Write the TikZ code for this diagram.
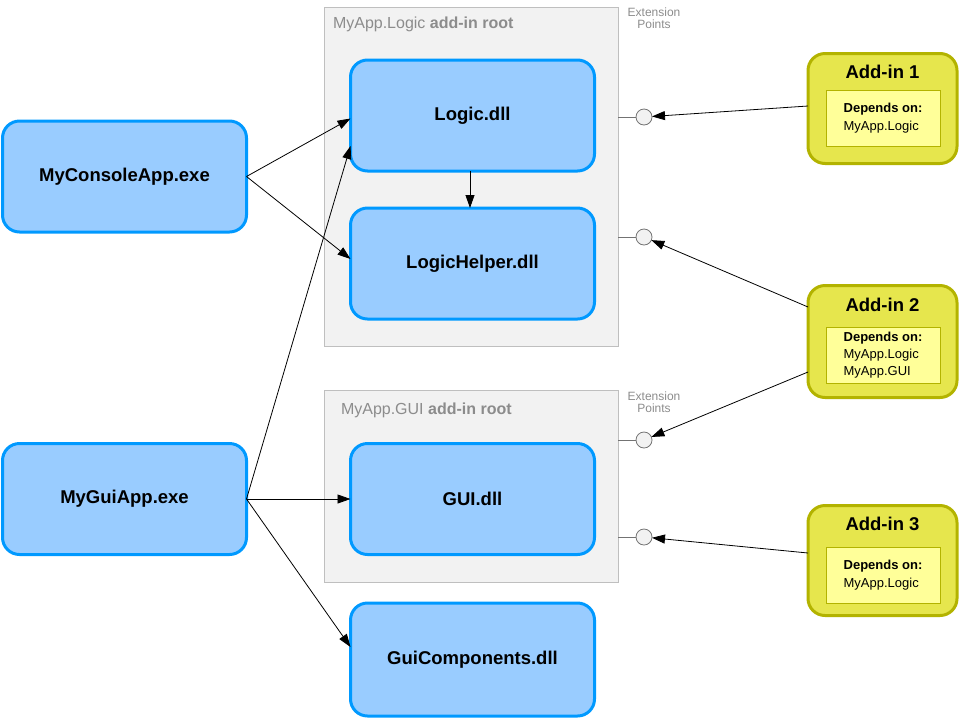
\documentclass[tikz,border=0pt]{standalone}
\usepackage{fontspec}
\setmainfont{Liberation Sans}
\usetikzlibrary{arrows.meta}
\definecolor{bluefill}{HTML}{99CCFF}
\definecolor{blueline}{HTML}{0099FF}
\definecolor{yelfill}{HTML}{E6E64D}
\definecolor{yelline}{HTML}{B3B300}
\definecolor{yelinner}{HTML}{FFFF99}
\definecolor{boxfill}{HTML}{F2F2F2}
\definecolor{boxline}{HTML}{BFBFBF}
\definecolor{graytext}{HTML}{8C8C8C}
\tikzset{
  x=1pt, y=-1pt,
  every node/.style={inner sep=0pt, outer sep=0pt},
  asm/.style={draw=blueline, fill=bluefill, line width=3pt, rounded corners=17pt,
    minimum width=244pt, minimum height=111pt,
    font=\fontsize{18.5}{20}\selectfont\bfseries},
  container/.style={draw=boxline, fill=boxfill, line width=1pt},
  addin/.style={draw=yelline, fill=yelfill, line width=3pt, rounded corners=17pt,
    minimum width=149pt, minimum height=110pt},
  inner/.style={draw=yelline, fill=yelinner, line width=0.8pt,
    minimum width=114pt, minimum height=56pt},
  exttext/.style={text=graytext, font=\fontsize{12}{12.5}\selectfont, align=center},
  extpt/.style={circle, draw=black!55, fill=boxfill, line width=0.8pt, minimum size=16pt},
  stub/.style={draw=black!55, line width=0.8pt},
  dep/.style={-{Triangle[length=13pt,width=9pt]}, line width=0.8pt},
}
\begin{document}
\begin{tikzpicture}
\useasboundingbox (0,0) rectangle (963,721);
% containers
\node[container, minimum width=294pt, minimum height=339pt] (logicroot) at (471,176.5) {};
\node[container, minimum width=294pt, minimum height=192pt] (guiroot) at (471,486) {};
\node[anchor=base west, text=graytext, font=\fontsize{16}{17}\selectfont] (logictitle) at (333,28) {MyApp.Logic \textbf{add-in root}};
\node[anchor=base west, text=graytext, font=\fontsize{16}{17}\selectfont] (guititle) at (341,414) {MyApp.GUI \textbf{add-in root}};
\node[exttext] (ext1) at (654,18) {Extension\\Points};
\node[exttext] (ext2) at (654,402) {Extension\\Points};
% assemblies
\node[asm] (console) at (124.5,176.5) {MyConsoleApp.exe};
\node[asm] (guiapp) at (124.5,499) {MyGuiApp.exe};
\node[asm] (logic) at (472.5,115.5) {Logic.dll};
\node[asm] (helper) at (472.5,263.5) {LogicHelper.dll};
\node[asm] (gui) at (472.5,499) {GUI.dll};
\node[asm, minimum height=113pt] (guicomp) at (472.5,659.5) {GuiComponents.dll};
% extension points
\node[extpt] (ep1) at (644,117) {};
\node[extpt] (ep2) at (644,237) {};
\node[extpt] (ep3) at (644,440) {};
\node[extpt] (ep4) at (644,537) {};
\draw[stub] (logicroot.east |- ep1) -- (ep1);
\draw[stub] (logicroot.east |- ep2) -- (ep2);
\draw[stub] (guiroot.east |- ep3) -- (ep3);
\draw[stub] (guiroot.east |- ep4) -- (ep4);
% add-ins
\node[addin] (a1) at (882.5,108.5) {};
\node[font=\fontsize{18.5}{20}\selectfont\bfseries] (a1t) at (882.5,72) {Add-in 1};
\node[inner, align=left, font=\fontsize{13}{17.5}\selectfont] (a1d) at (883,118)
  {\textbf{Depends on:}\\MyApp.Logic};
\node[addin, minimum height=112pt] (a2) at (882.5,341.5) {};
\node[font=\fontsize{18.5}{20}\selectfont\bfseries] (a2t) at (882.5,305) {Add-in 2};
\node[inner, align=left, font=\fontsize{13}{17}\selectfont] (a2d) at (883,355)
  {\textbf{Depends on:}\\MyApp.Logic\\MyApp.GUI};
\node[addin] (a3) at (882.5,560.5) {};
\node[font=\fontsize{18.5}{20}\selectfont\bfseries] (a3t) at (882.5,524) {Add-in 3};
\node[inner, align=left, font=\fontsize{13}{17.5}\selectfont] (a3d) at (883,575)
  {\textbf{Depends on:}\\MyApp.Logic};
% dependencies
\draw[dep] (console.east) -- ([yshift=-3pt]logic.west);
\draw[dep] (console.east) -- ([yshift=4.5pt]helper.west);
\draw[dep] (guiapp.east) -- ([yshift=-30.5pt]logic.west);
\draw[dep] (guiapp.east) -- (gui.west);
\draw[dep] (guiapp.east) -- ([yshift=12.5pt]guicomp.west);
\draw[dep] ([xshift=-2.5pt]logic.south) -- ([xshift=-2.5pt]helper.north);
\draw[dep] ([yshift=2.5pt]a1.west) -- (ep1);
\draw[dep] ([yshift=34.5pt]a2.west) -- (ep2);
\draw[dep] ([yshift=-30.5pt]a2.west) -- (ep3);
\draw[dep] ([yshift=7.5pt]a3.west) -- (ep4);
\end{tikzpicture}
\end{document}
